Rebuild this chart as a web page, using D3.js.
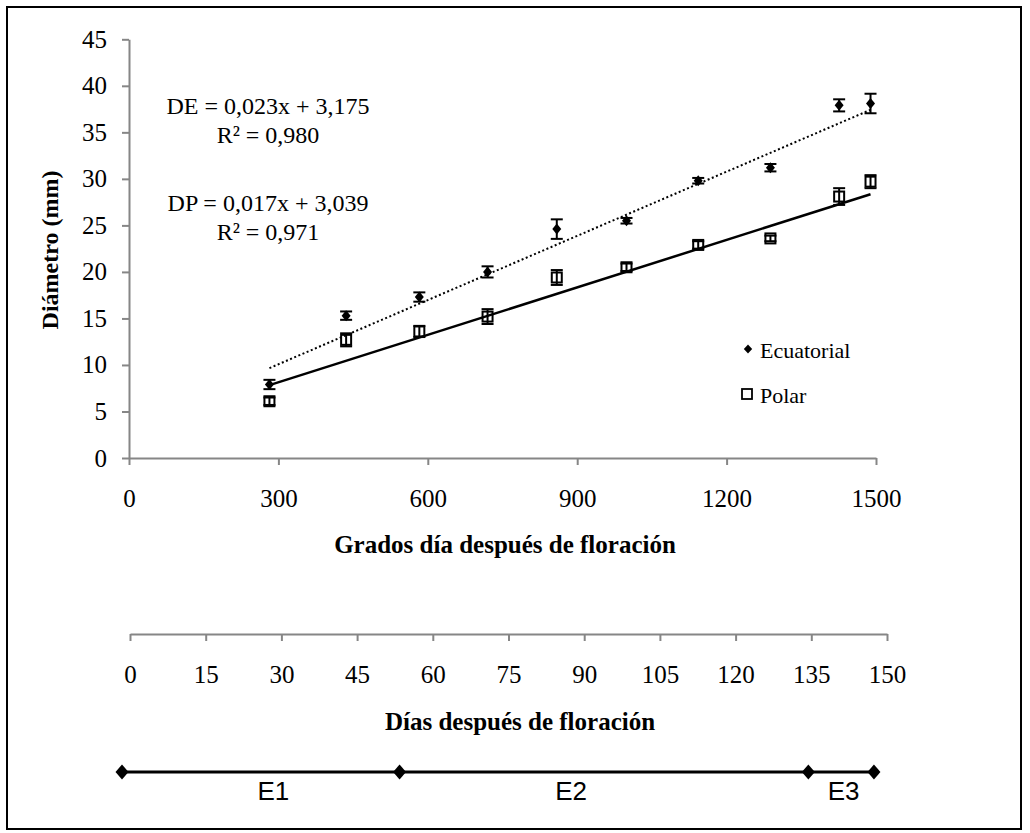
<!DOCTYPE html>
<html>
<head>
<meta charset="utf-8">
<script src="https://cdn.jsdelivr.net/npm/d3@7"></script>
<style>
  body { margin: 0; background: #fff; }
  svg { display: block; }
</style>
</head>
<body>
<svg id="chart" width="1030" height="833"></svg>
<script>
// Growth in fruit diameter against thermal time (degree-days after flowering)
const gradosDia     = [282, 436, 583, 720, 859, 999, 1143, 1288, 1426, 1489];
const ecuatorial    = [7.9, 15.3, 17.3, 20.0, 24.6, 25.5, 29.8, 31.2, 37.9, 38.1];
const ecuatorialErr = [0.5, 0.45, 0.5, 0.6, 1.05, 0.3, 0.3, 0.4, 0.65, 1.05];
const polar         = [6.1, 12.7, 13.6, 15.2, 19.4, 20.5, 22.9, 23.6, 28.1, 29.7];
const polarErr      = [0.4, 0.7, 0.6, 0.8, 0.8, 0.4, 0.4, 0.3, 0.9, 0.7];

// Linear fits: DE (equatorial) and DP (polar)
const trendNames      = ["DE", "DP"];
const trendSlopes     = [0.023, 0.017];
const trendIntercepts = [3.175, 3.039];
const trendR2         = [0.980, 0.971];

// Axis ticks
const yTicks    = [0, 5, 10, 15, 20, 25, 30, 35, 40, 45];
const xTicks    = [0, 300, 600, 900, 1200, 1500];
const diasTicks = [0, 15, 30, 45, 60, 75, 90, 105, 120, 135, 150];

// Development stages along the calendar-day scale
const etapas           = ["E1", "E2", "E3"];
const etapaLimites     = [0, 55, 136, 149];
const etapaEtiquetaDia = [30, 89, 143];

const serif = "'Liberation Serif', 'Times New Roman', serif";
const sans  = "'Liberation Sans', Arial, sans-serif";
const axisGray = "#868686";

const svg = d3.select("#chart");

// frame
svg.append("rect")
  .attr("x", 7).attr("y", 7).attr("width", 1014).attr("height", 822)
  .attr("fill", "none").attr("stroke", "#000").attr("stroke-width", 2);

const x = d3.scaleLinear().domain([0, 1500]).range([129, 876]);
const y = d3.scaleLinear().domain([0, 45]).range([458, 39.3]);
const xDias = d3.scaleLinear().domain([0, 150]).range([130, 887]);
const xEtapa = d3.scaleLinear().domain([0, 150]).range([122, 879]);

const comma = v => d3.format(".3f")(v).replace(".", ",");
const plain = d3.format("d");

function styleAxis(g) {
  g.select(".domain").attr("stroke", axisGray).attr("stroke-width", 2);
  g.selectAll(".tick line").attr("stroke", axisGray).attr("stroke-width", 2);
  g.selectAll(".tick text")
    .attr("fill", "#000")
    .style("font-family", serif)
    .style("font-size", "25px");
}

// y axis
svg.append("g")
  .attr("transform", `translate(${x(0)},0)`)
  .call(d3.axisLeft(y).tickValues(yTicks).tickFormat(plain)
    .tickSize(7).tickSizeOuter(0).tickPadding(15))
  .call(styleAxis);

// x axis (degree-days)
svg.append("g")
  .attr("transform", `translate(0,${y(0)})`)
  .call(d3.axisBottom(x).tickValues(xTicks).tickFormat(plain)
    .tickSize(7).tickSizeOuter(0).tickPadding(24))
  .call(styleAxis);

// second x axis (calendar days)
svg.append("g")
  .attr("transform", "translate(0,634)")
  .call(d3.axisBottom(xDias).tickValues(diasTicks).tickFormat(plain)
    .tickSize(7).tickSizeOuter(0).tickPadding(24))
  .call(styleAxis);

// axis titles
svg.append("text")
  .attr("x", 505).attr("y", 553)
  .attr("text-anchor", "middle")
  .style("font-family", serif).style("font-size", "25px").style("font-weight", "bold")
  .text("Grados día después de floración");

svg.append("text")
  .attr("x", 520).attr("y", 730)
  .attr("text-anchor", "middle")
  .style("font-family", serif).style("font-size", "25px").style("font-weight", "bold")
  .text("Días después de floración");

svg.append("text")
  .attr("transform", "translate(58,250) rotate(-90)")
  .attr("text-anchor", "middle")
  .style("font-family", serif).style("font-size", "24px").style("font-weight", "bold")
  .text("Diámetro (mm)");

// trend lines over the observed range
const xMin = d3.min(gradosDia), xMax = d3.max(gradosDia);
const line = d3.line().x(d => x(d[0])).y(d => y(d[1]));
trendSlopes.forEach((m, i) => {
  const b = trendIntercepts[i];
  svg.append("path")
    .datum([[xMin, m * xMin + b], [xMax, m * xMax + b]])
    .attr("d", line)
    .attr("fill", "none")
    .attr("stroke", "#000")
    .attr("stroke-width", i === 0 ? 2 : 2.5)
    .attr("stroke-dasharray", i === 0 ? "2,2.5" : null);
});

// error bars
function errorBars(values, errs) {
  const g = svg.append("g").attr("stroke", "#000").attr("stroke-width", 2);
  values.forEach((v, i) => {
    const cx = x(gradosDia[i]);
    const y1 = y(v - errs[i]), y2 = y(v + errs[i]);
    g.append("line").attr("x1", cx).attr("x2", cx).attr("y1", y1).attr("y2", y2);
    g.append("line").attr("x1", cx - 6).attr("x2", cx + 6).attr("y1", y1).attr("y2", y1);
    g.append("line").attr("x1", cx - 6).attr("x2", cx + 6).attr("y1", y2).attr("y2", y2);
  });
}
errorBars(ecuatorial, ecuatorialErr);
errorBars(polar, polarErr);

const diamond = (w, h) => `M0,${-h}L${w},0L0,${h}L${-w},0Z`;

// equatorial markers: filled diamonds
svg.append("g").selectAll("path")
  .data(ecuatorial)
  .join("path")
  .attr("transform", (d, i) => `translate(${x(gradosDia[i])},${y(d)})`)
  .attr("d", diamond(4.5, 5.5))
  .attr("fill", "#000");

// polar markers: open squares
svg.append("g").selectAll("rect")
  .data(polar)
  .join("rect")
  .attr("x", (d, i) => x(gradosDia[i]) - 5)
  .attr("y", d => y(d) - 5)
  .attr("width", 10).attr("height", 10)
  .attr("fill", "none")
  .attr("stroke", "#000")
  .attr("stroke-width", 2);

// regression equations
const eqBaselines = [[114, 143], [211, 240]];
trendNames.forEach((n, i) => {
  const t = svg.append("text")
    .attr("text-anchor", "middle")
    .style("font-family", serif).style("font-size", "24px");
  t.append("tspan").attr("x", 268).attr("y", eqBaselines[i][0])
    .text(`${n} = ${comma(trendSlopes[i])}x + ${comma(trendIntercepts[i])}`);
  t.append("tspan").attr("x", 268).attr("y", eqBaselines[i][1])
    .text(`R² = ${comma(trendR2[i])}`);
});

// legend
const legend = svg.append("g").style("font-family", serif).style("font-size", "22px");
legend.append("path").attr("transform", "translate(748,349)").attr("d", diamond(4.2, 4.5)).attr("fill", "#000");
legend.append("text").attr("x", 760).attr("y", 358).text("Ecuatorial");
legend.append("rect").attr("x", 742).attr("y", 389).attr("width", 10).attr("height", 10)
  .attr("fill", "none").attr("stroke", "#000").attr("stroke-width", 1.8);
legend.append("text").attr("x", 760).attr("y", 403).text("Polar");

// stage strip
const stageY = 772;
svg.append("line")
  .attr("x1", xEtapa(etapaLimites[0])).attr("x2", xEtapa(etapaLimites[etapaLimites.length - 1]))
  .attr("y1", stageY).attr("y2", stageY)
  .attr("stroke", "#000").attr("stroke-width", 3);
svg.append("g").selectAll("path")
  .data(etapaLimites)
  .join("path")
  .attr("transform", d => `translate(${xEtapa(d)},${stageY})`)
  .attr("d", diamond(6.5, 7.5))
  .attr("fill", "#000");
svg.append("g").selectAll("text")
  .data(etapas)
  .join("text")
  .attr("x", (d, i) => xEtapa(etapaEtiquetaDia[i]))
  .attr("y", 800)
  .attr("text-anchor", "middle")
  .style("font-family", sans).style("font-size", "26px")
  .text(d => d);
</script>
</body>
</html>
